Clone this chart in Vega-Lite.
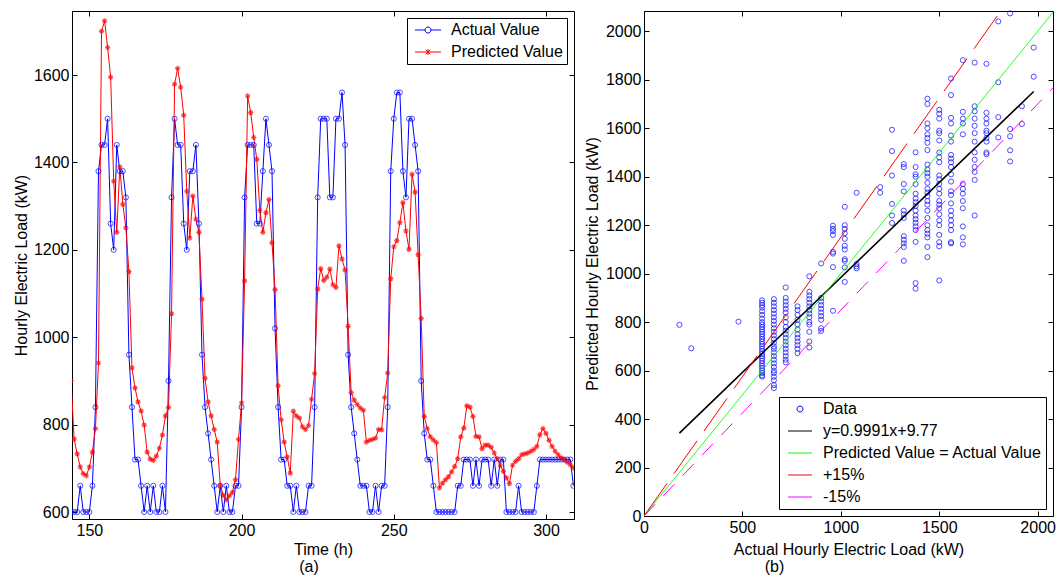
{
"$schema": "https://vega.github.io/schema/vega-lite/v6.json",
"padding": {"left": 12, "top": 8, "right": 0, "bottom": 0},
"spacing": 8,
"resolve": {"scale": {"color": "independent", "strokeDash": "independent"}, "legend": {"color": "independent"}},
"config": {
  "font": "Liberation Sans",
  "view": {"stroke": "black", "strokeWidth": 1},
  "axis": {"grid": false, "domainColor": "black", "tickColor": "black", "labelColor": "black", "titleColor": "black", "labelFont": "Liberation Sans", "titleFont": "Liberation Sans", "labelFontSize": 16, "titleFontSize": 16, "titleFontWeight": "normal", "tickSize": -5, "labelPadding": 8, "labelFlush": false, "labelOverlap": false, "format": "d"},
  "legend": {"labelFont": "Liberation Sans", "labelFontSize": 16, "labelColor": "black", "strokeColor": "black", "fillColor": "white", "padding": 4, "symbolSize": 100, "symbolStrokeWidth": 1, "rowPadding": 6, "labelLimit": 400},
  "title": {"font": "Liberation Sans", "fontSize": 16, "fontWeight": "normal", "color": "black"}
},
"datasets": {
"ts": [
{"t":144,"A":600,"P":900},{"t":145,"A":600,"P":767},{"t":146,"A":600,"P":733},{"t":147,"A":660,"P":703},{"t":148,"A":600,"P":688},{"t":149,"A":600,"P":683},{"t":150,"A":600,"P":703},{"t":151,"A":660,"P":737},{"t":152,"A":840,"P":791},{"t":153,"A":1380,"P":941},
{"t":154,"A":1440,"P":1700},{"t":155,"A":1440,"P":1724},{"t":156,"A":1500,"P":1663},{"t":157,"A":1260,"P":1595},{"t":158,"A":1200,"P":1357},{"t":159,"A":1440,"P":1240},{"t":160,"A":1380,"P":1390},{"t":161,"A":1380,"P":1304},{"t":162,"A":1320,"P":1250},{"t":163,"A":960,"P":1150},
{"t":164,"A":840,"P":930},{"t":165,"A":720,"P":884},{"t":166,"A":720,"P":852},{"t":167,"A":660,"P":831},{"t":168,"A":600,"P":799},{"t":169,"A":660,"P":737},{"t":170,"A":600,"P":721},{"t":171,"A":660,"P":718},{"t":172,"A":600,"P":728},{"t":173,"A":600,"P":746},
{"t":174,"A":660,"P":776},{"t":175,"A":600,"P":820},{"t":176,"A":900,"P":839},{"t":177,"A":1320,"P":1054},{"t":178,"A":1500,"P":1579},{"t":179,"A":1440,"P":1615},{"t":180,"A":1440,"P":1572},{"t":181,"A":1260,"P":1508},{"t":182,"A":1200,"P":1334},{"t":183,"A":1380,"P":1227},
{"t":184,"A":1380,"P":1323},{"t":185,"A":1440,"P":1270},{"t":186,"A":1260,"P":1240},{"t":187,"A":960,"P":1087},{"t":188,"A":840,"P":906},{"t":189,"A":780,"P":852},{"t":190,"A":720,"P":820},{"t":191,"A":660,"P":789},{"t":192,"A":600,"P":760},{"t":193,"A":660,"P":661},
{"t":194,"A":600,"P":638},{"t":195,"A":660,"P":628},{"t":196,"A":600,"P":637},{"t":197,"A":600,"P":645},{"t":198,"A":660,"P":674},{"t":199,"A":660,"P":766},{"t":200,"A":840,"P":850},{"t":201,"A":1320,"P":1129},{"t":202,"A":1440,"P":1552},{"t":203,"A":1440,"P":1514},
{"t":204,"A":1440,"P":1457},{"t":205,"A":1260,"P":1407},{"t":206,"A":1260,"P":1290},{"t":207,"A":1380,"P":1240},{"t":208,"A":1500,"P":1285},{"t":209,"A":1440,"P":1315},{"t":210,"A":1380,"P":1216},{"t":211,"A":1020,"P":1109},{"t":212,"A":840,"P":889},{"t":213,"A":720,"P":811},
{"t":214,"A":720,"P":760},{"t":215,"A":660,"P":726},{"t":216,"A":660,"P":689},{"t":217,"A":600,"P":831},{"t":218,"A":660,"P":820},{"t":219,"A":600,"P":815},{"t":220,"A":600,"P":795},{"t":221,"A":600,"P":789},{"t":222,"A":660,"P":798},{"t":223,"A":660,"P":858},
{"t":224,"A":840,"P":917},{"t":225,"A":1320,"P":1110},{"t":226,"A":1500,"P":1157},{"t":227,"A":1500,"P":1130},{"t":228,"A":1500,"P":1137},{"t":229,"A":1320,"P":1156},{"t":230,"A":1320,"P":1120},{"t":231,"A":1500,"P":1114},{"t":232,"A":1500,"P":1209},{"t":233,"A":1560,"P":1179},
{"t":234,"A":1440,"P":1154},{"t":235,"A":960,"P":1025},{"t":236,"A":840,"P":873},{"t":237,"A":780,"P":856},{"t":238,"A":720,"P":846},{"t":239,"A":660,"P":838},{"t":240,"A":660,"P":833},{"t":241,"A":660,"P":760},{"t":242,"A":600,"P":764},{"t":243,"A":600,"P":766},
{"t":244,"A":660,"P":769},{"t":245,"A":600,"P":789},{"t":246,"A":660,"P":788},{"t":247,"A":660,"P":862},{"t":248,"A":840,"P":918},{"t":249,"A":1380,"P":1134},{"t":250,"A":1500,"P":1207},{"t":251,"A":1560,"P":1221},{"t":252,"A":1560,"P":1262},{"t":253,"A":1380,"P":1308},
{"t":254,"A":1320,"P":1243},{"t":255,"A":1500,"P":1201},{"t":256,"A":1500,"P":1373},{"t":257,"A":1440,"P":1332},{"t":258,"A":1380,"P":1189},{"t":259,"A":900,"P":1043},{"t":260,"A":780,"P":819},{"t":261,"A":720,"P":791},{"t":262,"A":720,"P":772},{"t":263,"A":660,"P":765},
{"t":264,"A":600,"P":759},{"t":265,"A":600,"P":655},{"t":266,"A":600,"P":666},{"t":267,"A":600,"P":674},{"t":268,"A":600,"P":681},{"t":269,"A":600,"P":692},{"t":270,"A":600,"P":704},{"t":271,"A":660,"P":722},{"t":272,"A":660,"P":772},{"t":273,"A":720,"P":792},
{"t":274,"A":720,"P":843},{"t":275,"A":720,"P":840},{"t":276,"A":660,"P":819},{"t":277,"A":720,"P":773},{"t":278,"A":660,"P":772},{"t":279,"A":720,"P":745},{"t":280,"A":720,"P":753},{"t":281,"A":720,"P":753},{"t":282,"A":660,"P":748},{"t":283,"A":720,"P":735},
{"t":284,"A":660,"P":722},{"t":285,"A":720,"P":707},{"t":286,"A":720,"P":693},{"t":287,"A":600,"P":678},{"t":288,"A":600,"P":665},{"t":289,"A":600,"P":707},{"t":290,"A":600,"P":716},{"t":291,"A":660,"P":722},{"t":292,"A":600,"P":731},{"t":293,"A":600,"P":733},
{"t":294,"A":600,"P":735},{"t":295,"A":600,"P":739},{"t":296,"A":600,"P":743},{"t":297,"A":660,"P":750},{"t":298,"A":720,"P":777},{"t":299,"A":720,"P":791},{"t":300,"A":720,"P":780},{"t":301,"A":720,"P":764},{"t":302,"A":720,"P":750},{"t":303,"A":720,"P":739},
{"t":304,"A":720,"P":731},{"t":305,"A":720,"P":724},{"t":306,"A":720,"P":720},{"t":307,"A":720,"P":714},{"t":308,"A":720,"P":708},{"t":309,"A":660,"P":701}
],
"sc": [
{"s":"Data","a":180,"p":789},{"s":"Data","a":240,"p":692},{"s":"Data","a":480,"p":802},
{"s":"Data","a":600,"p":575},{"s":"Data","a":600,"p":580},{"s":"Data","a":600,"p":590},{"s":"Data","a":600,"p":600},{"s":"Data","a":600,"p":610},{"s":"Data","a":600,"p":620},{"s":"Data","a":600,"p":630},{"s":"Data","a":600,"p":640},{"s":"Data","a":600,"p":650},{"s":"Data","a":600,"p":660},{"s":"Data","a":600,"p":670},{"s":"Data","a":600,"p":680},{"s":"Data","a":600,"p":690},{"s":"Data","a":600,"p":700},{"s":"Data","a":600,"p":710},{"s":"Data","a":600,"p":720},{"s":"Data","a":600,"p":730},{"s":"Data","a":600,"p":740},{"s":"Data","a":600,"p":750},{"s":"Data","a":600,"p":760},{"s":"Data","a":600,"p":770},{"s":"Data","a":600,"p":780},{"s":"Data","a":600,"p":790},{"s":"Data","a":600,"p":800},{"s":"Data","a":600,"p":815},{"s":"Data","a":600,"p":830},{"s":"Data","a":600,"p":845},{"s":"Data","a":600,"p":860},{"s":"Data","a":600,"p":870},{"s":"Data","a":600,"p":880},{"s":"Data","a":600,"p":890},
{"s":"Data","a":660,"p":528},{"s":"Data","a":660,"p":540},{"s":"Data","a":660,"p":560},{"s":"Data","a":660,"p":575},{"s":"Data","a":660,"p":590},{"s":"Data","a":660,"p":600},{"s":"Data","a":660,"p":615},{"s":"Data","a":660,"p":630},{"s":"Data","a":660,"p":645},{"s":"Data","a":660,"p":660},{"s":"Data","a":660,"p":675},{"s":"Data","a":660,"p":690},{"s":"Data","a":660,"p":700},{"s":"Data","a":660,"p":715},{"s":"Data","a":660,"p":730},{"s":"Data","a":660,"p":745},{"s":"Data","a":660,"p":760},{"s":"Data","a":660,"p":775},{"s":"Data","a":660,"p":790},{"s":"Data","a":660,"p":805},{"s":"Data","a":660,"p":820},{"s":"Data","a":660,"p":835},{"s":"Data","a":660,"p":850},{"s":"Data","a":660,"p":865},{"s":"Data","a":660,"p":880},{"s":"Data","a":660,"p":895},
{"s":"Data","a":720,"p":634},{"s":"Data","a":720,"p":645},{"s":"Data","a":720,"p":660},{"s":"Data","a":720,"p":675},{"s":"Data","a":720,"p":690},{"s":"Data","a":720,"p":705},{"s":"Data","a":720,"p":720},{"s":"Data","a":720,"p":735},{"s":"Data","a":720,"p":750},{"s":"Data","a":720,"p":765},{"s":"Data","a":720,"p":780},{"s":"Data","a":720,"p":800},{"s":"Data","a":720,"p":820},{"s":"Data","a":720,"p":840},{"s":"Data","a":720,"p":855},{"s":"Data","a":720,"p":870},{"s":"Data","a":720,"p":885},{"s":"Data","a":720,"p":900},{"s":"Data","a":720,"p":943},
{"s":"Data","a":780,"p":672},{"s":"Data","a":780,"p":690},{"s":"Data","a":780,"p":705},{"s":"Data","a":780,"p":720},{"s":"Data","a":780,"p":735},{"s":"Data","a":780,"p":750},{"s":"Data","a":780,"p":770},{"s":"Data","a":780,"p":790},{"s":"Data","a":780,"p":810},{"s":"Data","a":780,"p":830},{"s":"Data","a":780,"p":850},{"s":"Data","a":780,"p":865},
{"s":"Data","a":840,"p":695},{"s":"Data","a":840,"p":720},{"s":"Data","a":840,"p":760},{"s":"Data","a":840,"p":790},{"s":"Data","a":840,"p":800},{"s":"Data","a":840,"p":820},{"s":"Data","a":840,"p":835},{"s":"Data","a":840,"p":850},{"s":"Data","a":840,"p":865},{"s":"Data","a":840,"p":880},{"s":"Data","a":840,"p":895},{"s":"Data","a":840,"p":910},{"s":"Data","a":840,"p":925},{"s":"Data","a":840,"p":989},
{"s":"Data","a":900,"p":764},{"s":"Data","a":900,"p":775},{"s":"Data","a":900,"p":810},{"s":"Data","a":900,"p":825},{"s":"Data","a":900,"p":840},{"s":"Data","a":900,"p":855},{"s":"Data","a":900,"p":870},{"s":"Data","a":900,"p":885},{"s":"Data","a":900,"p":900},{"s":"Data","a":900,"p":1042},
{"s":"Data","a":960,"p":847},{"s":"Data","a":960,"p":1027},{"s":"Data","a":960,"p":1083},{"s":"Data","a":960,"p":1090},{"s":"Data","a":960,"p":1160},{"s":"Data","a":960,"p":1175},{"s":"Data","a":960,"p":1185},{"s":"Data","a":960,"p":1198},
{"s":"Data","a":1020,"p":966},{"s":"Data","a":1020,"p":1026},{"s":"Data","a":1020,"p":1053},{"s":"Data","a":1020,"p":1060},{"s":"Data","a":1020,"p":1100},{"s":"Data","a":1020,"p":1115},{"s":"Data","a":1020,"p":1144},{"s":"Data","a":1020,"p":1167},{"s":"Data","a":1020,"p":1185},{"s":"Data","a":1020,"p":1200},{"s":"Data","a":1020,"p":1276},
{"s":"Data","a":1080,"p":1022},{"s":"Data","a":1080,"p":1030},{"s":"Data","a":1080,"p":1040},{"s":"Data","a":1080,"p":1334},
{"s":"Data","a":1200,"p":1334},{"s":"Data","a":1200,"p":1357},
{"s":"Data","a":1260,"p":1209},{"s":"Data","a":1260,"p":1240},{"s":"Data","a":1260,"p":1288},{"s":"Data","a":1260,"p":1405},{"s":"Data","a":1260,"p":1506},{"s":"Data","a":1260,"p":1594},
{"s":"Data","a":1320,"p":1053},{"s":"Data","a":1320,"p":1110},{"s":"Data","a":1320,"p":1125},{"s":"Data","a":1320,"p":1140},{"s":"Data","a":1320,"p":1155},{"s":"Data","a":1320,"p":1230},{"s":"Data","a":1320,"p":1245},{"s":"Data","a":1320,"p":1260},{"s":"Data","a":1320,"p":1340},{"s":"Data","a":1320,"p":1370},{"s":"Data","a":1320,"p":1440},{"s":"Data","a":1320,"p":1452},
{"s":"Data","a":1380,"p":938},{"s":"Data","a":1380,"p":961},{"s":"Data","a":1380,"p":1131},{"s":"Data","a":1380,"p":1180},{"s":"Data","a":1380,"p":1195},{"s":"Data","a":1380,"p":1210},{"s":"Data","a":1380,"p":1225},{"s":"Data","a":1380,"p":1240},{"s":"Data","a":1380,"p":1260},{"s":"Data","a":1380,"p":1280},{"s":"Data","a":1380,"p":1295},{"s":"Data","a":1380,"p":1310},{"s":"Data","a":1380,"p":1330},{"s":"Data","a":1380,"p":1370},{"s":"Data","a":1380,"p":1400},{"s":"Data","a":1380,"p":1410},{"s":"Data","a":1380,"p":1440},{"s":"Data","a":1380,"p":1501},
{"s":"Data","a":1440,"p":1068},{"s":"Data","a":1440,"p":1110},{"s":"Data","a":1440,"p":1150},{"s":"Data","a":1440,"p":1165},{"s":"Data","a":1440,"p":1180},{"s":"Data","a":1440,"p":1200},{"s":"Data","a":1440,"p":1230},{"s":"Data","a":1440,"p":1260},{"s":"Data","a":1440,"p":1285},{"s":"Data","a":1440,"p":1300},{"s":"Data","a":1440,"p":1320},{"s":"Data","a":1440,"p":1335},{"s":"Data","a":1440,"p":1350},{"s":"Data","a":1440,"p":1375},{"s":"Data","a":1440,"p":1400},{"s":"Data","a":1440,"p":1415},{"s":"Data","a":1440,"p":1430},{"s":"Data","a":1440,"p":1450},{"s":"Data","a":1440,"p":1510},{"s":"Data","a":1440,"p":1540},{"s":"Data","a":1440,"p":1560},{"s":"Data","a":1440,"p":1575},{"s":"Data","a":1440,"p":1600},{"s":"Data","a":1440,"p":1620},{"s":"Data","a":1440,"p":1700},{"s":"Data","a":1440,"p":1722},
{"s":"Data","a":1500,"p":972},{"s":"Data","a":1500,"p":1113},{"s":"Data","a":1500,"p":1130},{"s":"Data","a":1500,"p":1160},{"s":"Data","a":1500,"p":1200},{"s":"Data","a":1500,"p":1220},{"s":"Data","a":1500,"p":1245},{"s":"Data","a":1500,"p":1270},{"s":"Data","a":1500,"p":1285},{"s":"Data","a":1500,"p":1300},{"s":"Data","a":1500,"p":1330},{"s":"Data","a":1500,"p":1350},{"s":"Data","a":1500,"p":1370},{"s":"Data","a":1500,"p":1390},{"s":"Data","a":1500,"p":1405},{"s":"Data","a":1500,"p":1460},{"s":"Data","a":1500,"p":1480},{"s":"Data","a":1500,"p":1500},{"s":"Data","a":1500,"p":1550},{"s":"Data","a":1500,"p":1580},{"s":"Data","a":1500,"p":1590},{"s":"Data","a":1500,"p":1640},{"s":"Data","a":1500,"p":1660},{"s":"Data","a":1500,"p":1676},
{"s":"Data","a":1560,"p":1125},{"s":"Data","a":1560,"p":1130},{"s":"Data","a":1560,"p":1180},{"s":"Data","a":1560,"p":1200},{"s":"Data","a":1560,"p":1220},{"s":"Data","a":1560,"p":1240},{"s":"Data","a":1560,"p":1260},{"s":"Data","a":1560,"p":1290},{"s":"Data","a":1560,"p":1325},{"s":"Data","a":1560,"p":1340},{"s":"Data","a":1560,"p":1380},{"s":"Data","a":1560,"p":1410},{"s":"Data","a":1560,"p":1440},{"s":"Data","a":1560,"p":1460},{"s":"Data","a":1560,"p":1475},{"s":"Data","a":1560,"p":1490},{"s":"Data","a":1560,"p":1545},{"s":"Data","a":1560,"p":1570},{"s":"Data","a":1560,"p":1620},{"s":"Data","a":1560,"p":1643},{"s":"Data","a":1560,"p":1737},{"s":"Data","a":1560,"p":1805},
{"s":"Data","a":1620,"p":1121},{"s":"Data","a":1620,"p":1150},{"s":"Data","a":1620,"p":1195},{"s":"Data","a":1620,"p":1270},{"s":"Data","a":1620,"p":1300},{"s":"Data","a":1620,"p":1330},{"s":"Data","a":1620,"p":1350},{"s":"Data","a":1620,"p":1370},{"s":"Data","a":1620,"p":1575},{"s":"Data","a":1620,"p":1620},{"s":"Data","a":1620,"p":1640},{"s":"Data","a":1620,"p":1668},{"s":"Data","a":1620,"p":1881},
{"s":"Data","a":1680,"p":1240},{"s":"Data","a":1680,"p":1387},{"s":"Data","a":1680,"p":1420},{"s":"Data","a":1680,"p":1440},{"s":"Data","a":1680,"p":1470},{"s":"Data","a":1680,"p":1500},{"s":"Data","a":1680,"p":1545},{"s":"Data","a":1680,"p":1580},{"s":"Data","a":1680,"p":1610},{"s":"Data","a":1680,"p":1640},{"s":"Data","a":1680,"p":1670},{"s":"Data","a":1680,"p":1691},{"s":"Data","a":1680,"p":1871},
{"s":"Data","a":1740,"p":1493},{"s":"Data","a":1740,"p":1500},{"s":"Data","a":1740,"p":1545},{"s":"Data","a":1740,"p":1560},{"s":"Data","a":1740,"p":1580},{"s":"Data","a":1740,"p":1590},{"s":"Data","a":1740,"p":1620},{"s":"Data","a":1740,"p":1640},{"s":"Data","a":1740,"p":1664},{"s":"Data","a":1740,"p":1866},
{"s":"Data","a":1800,"p":1562},{"s":"Data","a":1800,"p":1646},{"s":"Data","a":1800,"p":1790},{"s":"Data","a":1800,"p":2041},
{"s":"Data","a":1860,"p":1463},{"s":"Data","a":1860,"p":1509},{"s":"Data","a":1860,"p":1567},{"s":"Data","a":1860,"p":1597},{"s":"Data","a":1860,"p":2074},
{"s":"Data","a":1920,"p":1618},{"s":"Data","a":1920,"p":1691},
{"s":"Data","a":1980,"p":1813},{"s":"Data","a":1980,"p":1933}
],
"ln": [
{"s":"y=0.9991x+9.77","a":180,"p":342},{"s":"y=0.9991x+9.77","a":1980,"p":1752},
{"s":"Predicted Value = Actual Value","a":0,"p":0},{"s":"Predicted Value = Actual Value","a":2100,"p":2100},
{"s":"+15%","a":0,"p":0},{"s":"+15%","a":1900,"p":2185},
{"s":"-15%","a":0,"p":0},{"s":"-15%","a":2100,"p":1785}
]
},
"hconcat": [
{
  "width": 502, "height": 508,
  "data": {"name": "ts"},
  "transform": [{"fold": ["A", "P"], "as": ["series", "value"]}],
  "title": {"text": "(a)", "orient": "bottom", "anchor": "middle", "dx": -14, "offset": 2},
  "resolve": {"axis": {"x": "independent", "y": "independent"}},
  "layer": [
    {
      "mark": {"type": "line", "strokeWidth": 1, "clip": true},
      "encoding": {
        "x": {"field": "t", "type": "quantitative", "scale": {"domain": [144.3, 309.2], "nice": false, "zero": false}, "axis": {"values": [150, 200, 250, 300], "title": "Time (h)", "titlePadding": 3}},
        "y": {"field": "value", "type": "quantitative", "scale": {"domain": [584, 1746.5], "nice": false, "zero": false}, "axis": {"values": [600, 800, 1000, 1200, 1400, 1600], "title": "Hourly Electric Load (kW)", "titlePadding": 4}},
        "color": {"field": "series", "type": "nominal", "scale": {"domain": ["A", "P"], "range": ["#0000ff", "#ff0000"]},
          "legend": {"title": null, "orient": "top-right", "offset": 7, "labelExpr": "datum.value == 'A' ? 'Actual Value' : 'Predicted Value'", "symbolOffset": 9, "labelOffset": 15,
            "encode": {"symbols": {"update": {"shape": {"signal": "datum.value == 'A' ? 'M-2.6,0L-0.6,0M0.6,0L2.6,0M0.6,0A0.6,0.6,0,1,1,-0.6,0A0.6,0.6,0,1,1,0.6,0' : 'M-2.6,0L2.6,0M0,-0.6L0,0.6M-0.45,-0.45L0.45,0.45M-0.45,0.45L0.45,-0.45'"}, "fill": {"value": "transparent"}, "strokeWidth": {"value": 1}}}}}}
      }
    },
    {
      "transform": [{"filter": "datum.series == 'A'"}],
      "mark": {"type": "point", "filled": false, "strokeWidth": 1, "size": 26, "color": "#0000ff", "clip": true},
      "encoding": {
        "x": {"field": "t", "type": "quantitative", "axis": {"orient": "top", "values": [150, 200, 250, 300], "labels": false, "title": null, "domain": false}},
        "y": {"field": "value", "type": "quantitative", "axis": {"orient": "right", "values": [600, 800, 1000, 1200, 1400, 1600], "labels": false, "title": null, "domain": false}}
      }
    },
    {
      "transform": [{"filter": "datum.series == 'P'"}],
      "mark": {"type": "point", "filled": false, "strokeWidth": 1.2, "size": 28, "color": "#ff0000", "shape": "M0,-1L0,1M-1,0L1,0M-0.7,-0.7L0.7,0.7M-0.7,0.7L0.7,-0.7", "clip": true},
      "encoding": {
        "x": {"field": "t", "type": "quantitative", "axis": null},
        "y": {"field": "value", "type": "quantitative", "axis": null}
      }
    }
  ]
},
{
  "width": 409, "height": 505,
  "title": {"text": "(b)", "orient": "bottom", "anchor": "middle", "dx": -74, "offset": 2},
  "resolve": {"axis": {"x": "independent", "y": "independent"}},
  "layer": [
    {
      "data": {"name": "sc"},
      "mark": {"type": "point", "filled": false, "size": 26, "strokeWidth": 1},
      "encoding": {
        "x": {"field": "a", "type": "quantitative", "scale": {"domain": [0, 2078], "nice": false}, "axis": {"values": [0, 500, 1000, 1500, 2000], "title": "Actual Hourly Electric Load (kW)", "titlePadding": 6}},
        "y": {"field": "p", "type": "quantitative", "scale": {"domain": [0, 2084], "nice": false}, "axis": {"values": [0, 200, 400, 600, 800, 1000, 1200, 1400, 1600, 1800, 2000], "title": "Predicted Hourly Electric Load (kW)", "titlePadding": 5}},
        "color": {"field": "s", "type": "nominal", "scale": {"domain": ["Data", "y=0.9991x+9.77", "Predicted Value = Actual Value", "+15%", "-15%"], "range": ["#0000ff", "#000000", "#00ff00", "#ff0000", "#ff00ff"]},
          "legend": {"title": null, "orient": "bottom-right", "offset": 7, "symbolOffset": 9, "labelOffset": 15,
            "encode": {"symbols": {"update": {"shape": {"signal": "datum.value == 'Data' ? 'M0.6,0A0.6,0.6,0,1,1,-0.6,0A0.6,0.6,0,1,1,0.6,0' : 'M-2.4,0L2.4,0'"}, "fill": {"value": "transparent"}, "strokeWidth": {"value": 1}}}}}}
      }
    },
    {
      "data": {"name": "ln"},
      "transform": [{"filter": "datum.s == 'y=0.9991x+9.77'"}],
      "mark": {"type": "line", "strokeWidth": 1.6, "clip": true},
      "encoding": {
        "x": {"field": "a", "type": "quantitative", "axis": {"orient": "top", "values": [0, 500, 1000, 1500, 2000], "labels": false, "title": null, "domain": false}},
        "y": {"field": "p", "type": "quantitative", "axis": {"orient": "right", "values": [0, 200, 400, 600, 800, 1000, 1200, 1400, 1600, 1800, 2000], "labels": false, "title": null, "domain": false}},
        "color": {"field": "s", "type": "nominal",
          "legend": {"title": null, "orient": "bottom-right", "offset": 7, "symbolOffset": 9, "labelOffset": 15,
            "encode": {"symbols": {"update": {"shape": {"signal": "datum.value == 'Data' ? 'M0.6,0A0.6,0.6,0,1,1,-0.6,0A0.6,0.6,0,1,1,0.6,0' : 'M-2.4,0L2.4,0'"}, "fill": {"value": "transparent"}, "strokeWidth": {"value": 1}}}}}}
      }
    },
    {
      "data": {"name": "ln"},
      "transform": [{"filter": "datum.s != 'y=0.9991x+9.77'"}],
      "mark": {"type": "line", "strokeWidth": 1, "clip": true},
      "encoding": {
        "x": {"field": "a", "type": "quantitative", "axis": null},
        "y": {"field": "p", "type": "quantitative", "axis": null},
        "color": {"field": "s", "type": "nominal",
          "legend": {"title": null, "orient": "bottom-right", "offset": 7, "symbolOffset": 9, "labelOffset": 15,
            "encode": {"symbols": {"update": {"shape": {"signal": "datum.value == 'Data' ? 'M0.6,0A0.6,0.6,0,1,1,-0.6,0A0.6,0.6,0,1,1,0.6,0' : 'M-2.4,0L2.4,0'"}, "fill": {"value": "transparent"}, "strokeWidth": {"value": 1}}}}}},
        "strokeDash": {"field": "s", "type": "nominal", "scale": {"domain": ["Predicted Value = Actual Value", "+15%", "-15%"], "range": [[1, 0], [40, 12], [16, 12]]}, "legend": null}
      }
    }
  ]
}
]
}
